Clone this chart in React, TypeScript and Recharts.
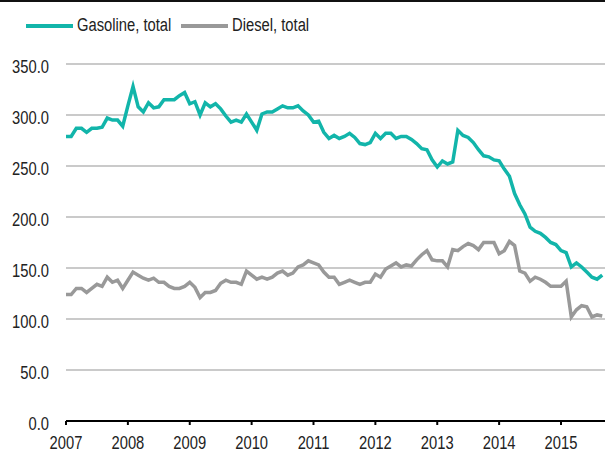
import React from 'react';
import { LineChart, Line, XAxis, YAxis, CartesianGrid } from 'recharts';

const FONT = "'Liberation Sans', Arial, sans-serif";
const NARROW = 0.82; // squeeze Liberation Sans to a narrow face

// monthly, Jan 2007 .. Sep 2015
const gasoline = [
  279, 279, 287, 287, 283, 287, 287, 288, 297, 295, 295, 289,
  309, 328, 308, 303, 312, 307, 308, 315, 315, 315, 319, 322,
  311, 313, 300, 312, 308, 311, 306, 299, 293, 295, 293, 301,
  293, 285, 301, 303, 303, 306, 309, 307, 307, 309, 304, 300,
  293, 294, 283, 277, 280, 277, 279, 282, 278, 272, 271, 273,
  282, 277, 282, 282, 277, 279, 279, 276, 272, 267, 266, 256,
  249, 255, 252, 254, 285, 280, 278, 273, 266, 260, 259, 256,
  255, 247, 240, 223, 212, 203, 190, 186, 184, 180, 175, 173,
  167, 165, 151, 155, 151, 146, 141, 139, 143,
];

const diesel = [
  124, 124, 130, 130, 126, 130, 134, 132, 141, 136, 138, 130,
  138, 146, 143, 140, 138, 140, 136, 136, 132, 130, 130, 132,
  136, 131, 121, 126, 126, 128, 135, 138, 136, 136, 134, 147,
  143, 139, 141, 139, 141, 145, 147, 143, 145, 151, 153, 157,
  155, 153, 146, 141, 141, 134, 136, 138, 136, 134, 136, 136,
  144, 141, 149, 152, 155, 151, 153, 152, 158, 163, 167, 158,
  157, 157, 151, 168, 167, 171, 174, 172, 168, 175, 175, 175,
  164, 167, 176, 172, 147, 145, 137, 141, 139, 136, 132, 132,
  132, 137, 102, 109, 113, 112, 102, 104, 103,
];

const startYear = 2007;
const yearTicks = [2007, 2008, 2009, 2010, 2011, 2012, 2013, 2014, 2015];
const valueTicks = [0, 50, 100, 150, 200, 250, 300, 350];
const series = [
  { key: 'gasoline', name: 'Gasoline, total', color: '#12b5aa' },
  { key: 'diesel', name: 'Diesel, total', color: '#999999' },
];

const data = gasoline.map((g, i) => ({
  t: startYear + i / 12,
  gasoline: g,
  diesel: diesel[i],
}));

const YTick = ({ x, y, payload }: any) => (
  <text
    transform={`translate(${x},${y + 9}) scale(${NARROW},1)`}
    textAnchor="end"
    fill="#222"
    fontSize={18}
    fontFamily={FONT}
  >
    {payload.value.toFixed(1)}
  </text>
);

const XTick = ({ x, y, payload }: any) => (
  <text
    transform={`translate(${x},${y + 20}) scale(${NARROW},1)`}
    textAnchor="middle"
    fill="#222"
    fontSize={18}
    fontFamily={FONT}
  >
    {payload.value}
  </text>
);

const ChartLegend = () => (
  <div
    style={{
      position: 'absolute',
      left: 26,
      top: 15,
      display: 'flex',
      alignItems: 'center',
      fontFamily: FONT,
      fontSize: 18,
      color: '#222',
      whiteSpace: 'nowrap',
    }}
  >
    {series.map((s) => (
      <div key={s.key} style={{ display: 'flex', alignItems: 'center', marginRight: 20 }}>
        <span style={{ display: 'inline-block', width: 47, height: 4, background: s.color, marginRight: 4 }} />
        <span
          style={{
            display: 'inline-block',
            whiteSpace: 'nowrap',
            transform: `scaleX(${NARROW})`,
            transformOrigin: 'left center',
            width: s.name.length * 5.6,
          }}
        >
          {s.name}
        </span>
      </div>
    ))}
  </div>
);

export default function App() {
  return (
    <div style={{ position: 'absolute', left: 0, top: 0, width: 605, height: 451, background: '#fff' }}>
      <div style={{ position: 'absolute', left: 0, top: 0, width: 605, height: 2, background: '#111' }} />
      <ChartLegend />
      <LineChart width={605} height={451} data={data} margin={{ top: 64, right: 0, bottom: 0, left: 0 }}>
        <CartesianGrid vertical={false} stroke="#cacaca" strokeWidth={2} />
        <XAxis
          dataKey="t"
          type="number"
          domain={[2007, 2007 + 539 / 61.875]}
          ticks={yearTicks}
          allowDataOverflow
          height={30}
          axisLine={{ stroke: '#000', strokeWidth: 2 }}
          tickLine={{ stroke: '#000', strokeWidth: 2 }}
          tickSize={4}
          tickMargin={4}
          tick={<XTick />}
        />
        <YAxis
          domain={[0, 350]}
          ticks={valueTicks}
          width={66}
          axisLine={false}
          tickLine={false}
          tickSize={0}
          tickMargin={17}
          tick={<YTick />}
        />
        {series.map((s) => (
          <Line
            key={s.key}
            type="linear"
            dataKey={s.key}
            name={s.name}
            stroke={s.color}
            strokeWidth={3.5}
            dot={false}
            isAnimationActive={false}
          />
        ))}
      </LineChart>
    </div>
  );
}
